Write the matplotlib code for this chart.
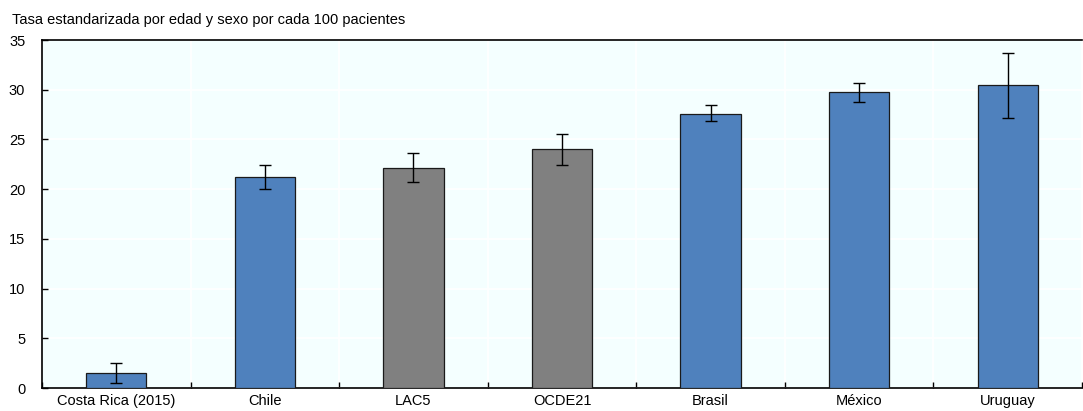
import matplotlib
matplotlib.use("Agg")
import matplotlib.pyplot as plt
import numpy as np
from matplotlib import font_manager

categories = ["Costa Rica (2015)", "Chile", "LAC5", "OCDE21", "Brasil", "México", "Uruguay"]
values = [1.5, 21.2, 22.1, 24.0, 27.6, 29.8, 30.5]
err_low = [0.5, 20.0, 20.7, 22.4, 26.9, 28.8, 27.2]
err_high = [2.5, 22.4, 23.6, 25.5, 28.5, 30.7, 33.7]
colors = ["#4F81BD", "#4F81BD", "#808080", "#808080", "#4F81BD", "#4F81BD", "#4F81BD"]
yticks = [0, 5, 10, 15, 20, 25, 30, 35]

names = {f.name for f in font_manager.fontManager.ttflist}
if "Liberation Sans Narrow" in names:
    plt.rcParams['font.family'] = ['Liberation Sans Narrow', 'DejaVu Sans']
    fs = 12.0
else:
    plt.rcParams['font.family'] = ['Liberation Sans', 'DejaVu Sans']
    fs = 10.5

fig = plt.figure(figsize=(10.83, 4.11), dpi=100)
ax = fig.add_axes([42/1083, 1 - 388/411, (1082 - 42)/1083, (388 - 40)/411])
ax.set_facecolor("#F4FFFF")

x = np.arange(len(categories))
vals = np.array(values)
lo = vals - np.array(err_low)
hi = np.array(err_high) - vals
ax.bar(x, vals, width=0.405, color=colors, edgecolor="#1a1a1a", linewidth=0.9, zorder=3)
ax.errorbar(x, vals, yerr=[lo, hi], fmt="none", ecolor="black", elinewidth=1.0,
            capsize=4, capthick=1.0, zorder=4)

ax.set_xlim(-0.5, len(categories) - 0.5)
ax.set_ylim(0, 35)
ax.set_yticks(yticks)
ax.set_xticks(x)
ax.set_xticklabels(categories, fontsize=fs)
ax.tick_params(axis="x", length=0, pad=4)
ax.set_xticks(np.arange(len(categories) + 1) - 0.5, minor=True)
ax.tick_params(axis="x", which="minor", direction="in", length=4, width=1, color="black")
ax.tick_params(axis="y", direction="in", length=4, width=1, labelsize=fs, pad=12)
for lab in ax.get_yticklabels():
    lab.set_horizontalalignment("right")

ax.grid(axis="y", color="white", linewidth=1.2, zorder=0)
ax.grid(axis="x", which="minor", color="white", linewidth=1.2, zorder=0)
ax.set_axisbelow(True)

for s in ["left", "bottom", "top"]:
    ax.spines[s].set_color("black")
    ax.spines[s].set_linewidth(1.2)
ax.spines["right"].set_visible(False)

fig.text(12/1083, 1 - 20/411, "Tasa estandarizada por edad y sexo por cada 100 pacientes",
         fontsize=fs, ha="left", va="center")

fig.savefig("out.png", dpi=100)
